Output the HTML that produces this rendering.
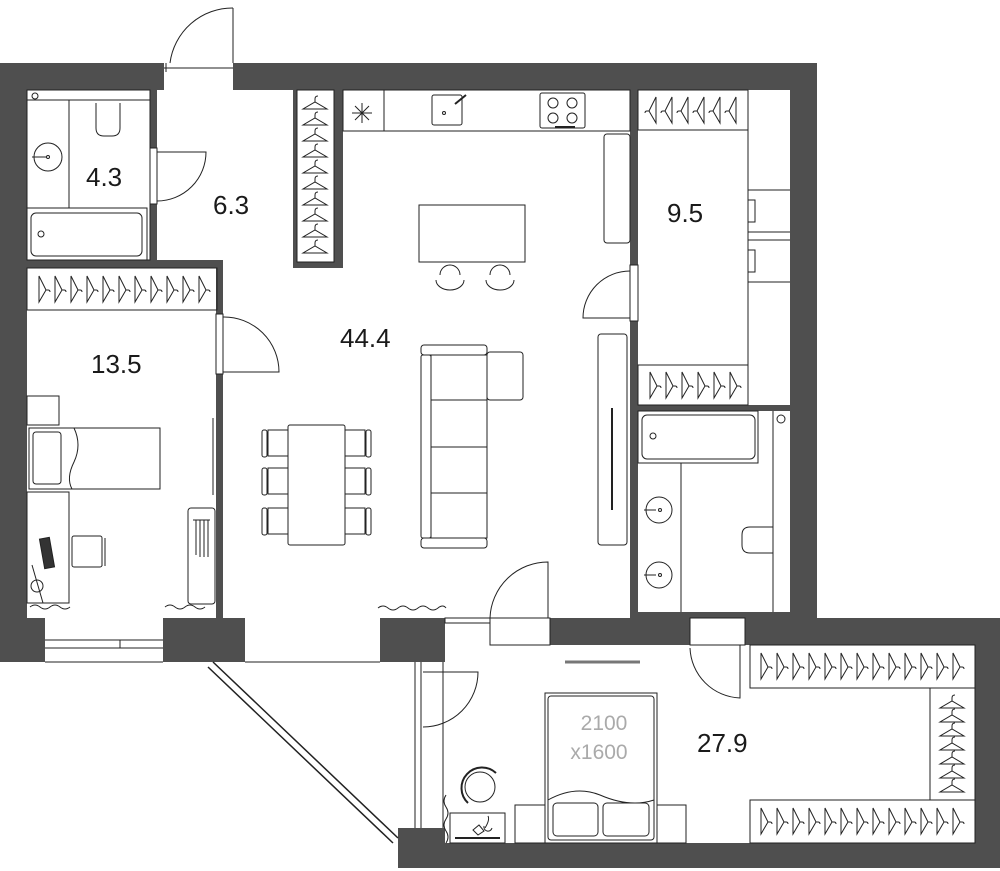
<!DOCTYPE html>
<html><head><meta charset="utf-8"><style>
html,body{margin:0;padding:0;background:#fff}
svg{display:block}
text{font-family:"Liberation Sans",sans-serif;fill:#1a1a1a}
</style></head><body>
<svg width="1000" height="871" viewBox="0 0 1000 871" xmlns="http://www.w3.org/2000/svg">
<defs>
<g id="hv" fill="none" stroke="#222" stroke-width="1"><path d="M-12,5 L12,5 L0,-2 Z"/><path d="M0,-2 v-3 q0,-3 3,-3"/></g>
<g id="hr" fill="none" stroke="#222" stroke-width="1"><path d="M-3,-13 L-3,13 L4,1 Z"/><path d="M4,1 h2 q2,0 2,2"/></g>
<g id="hl" fill="none" stroke="#222" stroke-width="1"><path d="M3,-13 L3,13 L-4,1 Z"/><path d="M-4,1 h-2 q-2,0 -2,2"/></g>
</defs>
<g fill="#4f4f4f" stroke="none">
<rect x="0" y="63" width="164" height="27"/>
<rect x="233" y="63" width="584" height="27"/>
<rect x="0" y="63" width="27" height="599"/>
<rect x="0" y="618" width="45" height="44"/>
<rect x="163" y="618" width="82" height="44"/>
<rect x="790" y="63" width="27" height="582"/>
<rect x="745" y="618" width="255" height="27"/>
<rect x="975" y="618" width="25" height="250"/>
<rect x="398" y="843" width="602" height="25"/>
<rect x="398" y="828" width="47" height="40"/>
<rect x="380" y="618" width="65" height="44"/>
<rect x="550" y="618" width="140" height="27"/>
<rect x="150" y="90" width="7" height="170"/>
<rect x="27" y="260" width="196" height="8"/>
<rect x="216" y="260" width="7" height="358"/>
<rect x="293" y="90" width="50" height="178"/>
<rect x="630" y="90" width="8" height="528"/>
<rect x="638" y="405" width="152" height="6"/>
<rect x="630" y="612" width="160" height="6"/>
</g>
<g fill="#fff" stroke="#222" stroke-width="1">
<rect x="297" y="90" width="37" height="172"/>
<rect x="150" y="148" width="7" height="56"/>
<rect x="216" y="314" width="7" height="60"/>
<rect x="630" y="265" width="8" height="56"/>
<rect x="490" y="618" width="60" height="27"/>
<rect x="690" y="618" width="55" height="27"/>
<rect x="445" y="618" width="45" height="5"/>
</g>
<g fill="none" stroke="#222" stroke-width="1">
<path d="M166,63 L166,72 M233,63 L233,8 M170,63 A63,63 0 0 1 233,8"/>
<path d="M164,68 H233"/>
<path d="M157,152 H206 A49,49 0 0 1 157,201"/>
<path d="M223,372 H279 A55,55 0 0 0 223,317"/>
<path d="M630,318 H583 A47,47 0 0 1 630,271"/>
<path d="M548,618 V562 A58,58 0 0 0 490,618"/>
<path d="M740,645 V698 A52,52 0 0 1 690,648"/>
<path d="M423,672 H478 A55,55 0 0 1 423,727"/>
<path d="M45,640 H163 M45,648 H163 M45,662 H163 M120,640 V648"/>
<path d="M245,662 H380"/>
<path d="M415,662 V828 M421,662 V828 M443,662 V828"/>
<path d="M213,662 L398,838 M208,667 L393,843" stroke-width="1.5"/>
<rect x="27" y="90" width="123" height="170"/>
<path d="M27,100 H150 M69,100 V208 M27,208 H147 V260"/>
<circle cx="35" cy="96" r="3"/>
<path d="M96,103 V128 Q96,136 104,136 H112 Q120,136 120,128 V103"/>
<circle cx="48" cy="157" r="14"/><circle cx="48" cy="157" r="1.5"/><path d="M32,157 H47"/>
<rect x="31" y="213" width="111" height="43" rx="5"/><circle cx="41" cy="234" r="3"/>
<rect x="27" y="268" width="190" height="42"/>
<rect x="27" y="396" width="32" height="29"/>
<rect x="29" y="428" width="131" height="61"/>
<rect x="33" y="432" width="28" height="52" rx="3"/>
<path d="M74,428 Q82,445 74,462 Q66,478 72,489"/>
<rect x="27" y="492" width="42" height="111"/>
<rect x="72" y="536" width="30" height="31" rx="2"/><path d="M102,538 V566 M105,538 V566"/>
<rect x="42" y="538" width="10" height="30" fill="#333" transform="rotate(-10 47 553)"/>
<path d="M32,565 L43,603"/><circle cx="37" cy="586" r="6"/>
<rect x="188" y="508" width="27" height="96" rx="3"/>
<path d="M196,520 V555 M200,520 V557 M204,520 V557 M208,520 V557 M193,520 H210"/>
<path d="M213,418 V495"/>
<path d="M30,607 q5,-4 10,0 t10,0 t10,0 t10,0 M165,607 q5,-4 10,0 t10,0 t10,0 t10,0 M378,608 q5,-4 10,0 t10,0 t10,0 t10,0 t10,0 t10,0 t8,0"/>
<rect x="343" y="90" width="287" height="41"/>
<path d="M384,90 V131"/>
<path d="M362,103 V123 M352,113 H372 M355,106 L369,120 M355,120 L369,106"/>
<rect x="432" y="95" width="30" height="30" rx="2"/><circle cx="444" cy="113" r="1.5"/><path d="M455,104 L466,95" stroke-width="2"/>
<rect x="540" y="93" width="45" height="35" rx="2"/>
<circle cx="553" cy="103" r="5"/><circle cx="572" cy="103" r="5"/><circle cx="553" cy="118" r="5"/><circle cx="572" cy="118" r="5"/>
<path d="M555,127 H575" stroke-width="2"/>
<rect x="604" y="134" width="26" height="109" rx="3"/>
<rect x="419" y="205" width="106" height="57"/>
<path d="M440,275 A10,10 0 1 1 460,275 M436,280 A14,10 0 0 0 464,280"/>
<path d="M490,275 A10,10 0 1 1 510,275 M486,280 A14,10 0 0 0 514,280"/>
<rect x="421" y="345" width="66" height="10" rx="3"/>
<rect x="421" y="355" width="10" height="183" rx="2"/>
<rect x="431" y="355" width="56" height="183"/>
<rect x="487" y="352" width="36" height="48" rx="3"/>
<path d="M431,400 H487 M431,447 H487 M431,493 H487"/>
<rect x="421" y="538" width="66" height="10" rx="3"/>
<rect x="598" y="334" width="29" height="211" rx="3"/>
<path d="M612,408 V510" stroke-width="2"/>
<rect x="288" y="425" width="57" height="120" rx="2"/>
<g id="chL"><path d="M288,430 H268 V456 H288"/><rect x="262" y="430" width="5" height="27" rx="2"/></g>
<use href="#chL" y="38"/><use href="#chL" y="78"/>
<g id="chR"><path d="M345,430 H365 V456 H345"/><rect x="366" y="430" width="5" height="27" rx="2"/></g>
<use href="#chR" y="38"/><use href="#chR" y="78"/>
<rect x="638" y="90" width="110" height="40"/>
<rect x="638" y="365" width="110" height="40"/>
<path d="M748,90 V405 M748,190 H790 M748,232 H790 M748,240 H790 M748,282 H790"/>
<path d="M748,200 h7 v22 h-7 M748,250 h7 v22 h-7"/>
<rect x="638" y="411" width="120" height="52"/>
<rect x="642" y="415" width="113" height="44" rx="5"/><circle cx="653" cy="436" r="3"/>
<path d="M681,463 V612 M773,411 V612"/>
<circle cx="781" cy="419" r="4"/>
<circle cx="659" cy="510" r="13"/><circle cx="660" cy="510" r="1.5"/><path d="M644,510 H656"/>
<circle cx="659" cy="575" r="13"/><circle cx="660" cy="575" r="1.5"/><path d="M644,575 H656"/>
<path d="M773,527 H750 Q742,527 742,535 V545 Q742,553 750,553 H773"/>
<rect x="750" y="645" width="225" height="43"/>
<rect x="930" y="688" width="45" height="112"/>
<rect x="750" y="800" width="225" height="43"/>
<path d="M565,662 H640" stroke="#777" stroke-width="3"/>
<rect x="545" y="693" width="112" height="150"/>
<rect x="548" y="696" width="106" height="144" rx="3"/>
<path d="M548,800 Q575,785 600,795 Q630,808 654,800"/>
<rect x="553" y="803" width="45" height="33" rx="4"/>
<rect x="603" y="803" width="46" height="33" rx="4"/>
<rect x="515" y="805" width="30" height="38"/>
<rect x="657" y="805" width="29" height="38"/>
<rect x="450" y="813" width="55" height="30"/>
<path d="M455,838 H500" stroke-width="2"/>
<path d="M473,830 l6,-5 l5,6 l-6,4 z M485,828 q5,-8 3,-12 M484,826 a4,4 0 1 0 8,2"/>
<circle cx="480" cy="787" r="15"/>
<path d="M468,803 A18,18 0 0 1 496,773" stroke-width="2"/>
<path d="M446,795 q-4,6 0,12 t0,12 t0,12 t0,12"/>
</g>
<g>
<use href="#hr" x="42" y="289"/><use href="#hr" x="58" y="289"/><use href="#hr" x="74" y="289"/><use href="#hr" x="90" y="289"/><use href="#hr" x="106" y="289"/><use href="#hr" x="122" y="289"/><use href="#hr" x="138" y="289"/><use href="#hr" x="154" y="289"/><use href="#hr" x="170" y="289"/><use href="#hr" x="186" y="289"/><use href="#hr" x="202" y="289"/>
<use href="#hv" x="315" y="104"/><use href="#hv" x="315" y="120"/><use href="#hv" x="315" y="136"/><use href="#hv" x="315" y="152"/><use href="#hv" x="315" y="168"/><use href="#hv" x="315" y="184"/><use href="#hv" x="315" y="200"/><use href="#hv" x="315" y="216"/><use href="#hv" x="315" y="232"/><use href="#hv" x="315" y="248"/>
<use href="#hl" x="653" y="110"/><use href="#hl" x="669" y="110"/><use href="#hl" x="685" y="110"/><use href="#hl" x="701" y="110"/><use href="#hl" x="717" y="110"/><use href="#hl" x="733" y="110"/>
<use href="#hr" x="653" y="385"/><use href="#hr" x="669" y="385"/><use href="#hr" x="685" y="385"/><use href="#hr" x="701" y="385"/><use href="#hr" x="717" y="385"/><use href="#hr" x="733" y="385"/>
<use href="#hr" x="764" y="666"/><use href="#hr" x="780" y="666"/><use href="#hr" x="796" y="666"/><use href="#hr" x="812" y="666"/><use href="#hr" x="828" y="666"/><use href="#hr" x="844" y="666"/><use href="#hr" x="860" y="666"/><use href="#hr" x="876" y="666"/><use href="#hr" x="892" y="666"/><use href="#hr" x="908" y="666"/><use href="#hr" x="924" y="666"/><use href="#hr" x="940" y="666"/><use href="#hr" x="956" y="666"/>
<use href="#hr" x="764" y="821"/><use href="#hr" x="780" y="821"/><use href="#hr" x="796" y="821"/><use href="#hr" x="812" y="821"/><use href="#hr" x="828" y="821"/><use href="#hr" x="844" y="821"/><use href="#hr" x="860" y="821"/><use href="#hr" x="876" y="821"/><use href="#hr" x="892" y="821"/><use href="#hr" x="908" y="821"/><use href="#hr" x="924" y="821"/><use href="#hr" x="940" y="821"/><use href="#hr" x="956" y="821"/>
<use href="#hv" x="952" y="703"/><use href="#hv" x="952" y="717"/><use href="#hv" x="952" y="731"/><use href="#hv" x="952" y="745"/><use href="#hv" x="952" y="759"/><use href="#hv" x="952" y="773"/><use href="#hv" x="952" y="787"/>
</g>
<g font-size="26">
<text x="86" y="186">4.3</text>
<text x="213" y="214">6.3</text>
<text x="340" y="347">44.4</text>
<text x="91" y="373">13.5</text>
<text x="667" y="222">9.5</text>
<text x="697" y="752">27.9</text>
</g>
<text x="604" y="730" font-size="21" text-anchor="middle" style="fill:#aaa">2100</text>
<text x="599" y="759" font-size="21" text-anchor="middle" style="fill:#aaa">x1600</text>
</svg>
</body></html>
